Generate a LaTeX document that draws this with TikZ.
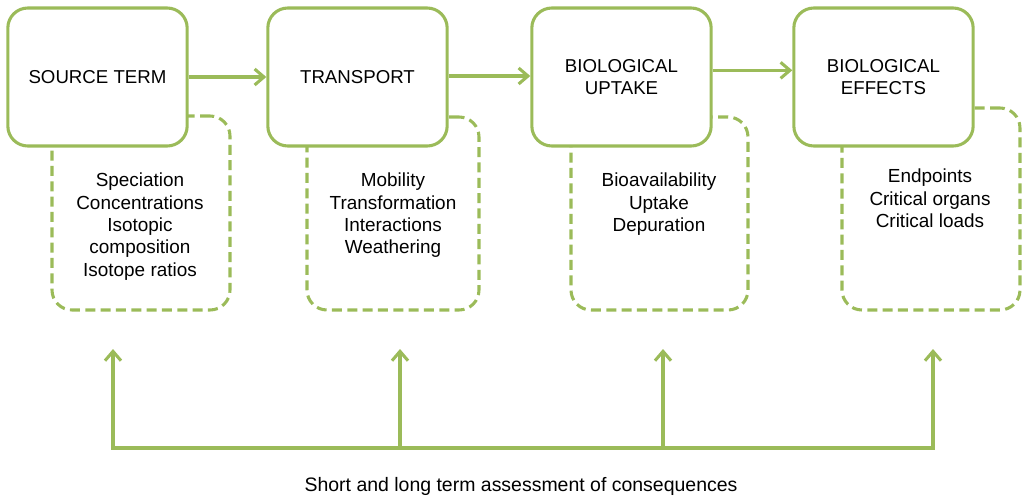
\documentclass[tikz,border=0pt]{standalone}
\usepackage{fontspec}
\setmainfont{Liberation Sans}
\usetikzlibrary{arrows.meta}
\definecolor{olivegreen}{HTML}{9BBB59}
\tikzset{
  mainbox/.style={draw=olivegreen, line width=2.3pt, fill=white, rounded corners=15pt,
    minimum width=134.5pt, minimum height=103.5pt, align=center, inner sep=0pt,
    font=\fontsize{14}{16.5}\selectfont},
  dashbox/.style={draw=olivegreen, line width=2.3pt, dash pattern=on 7.5pt off 4pt,
    rounded corners=15pt, inner sep=0pt},
  infotext/.style={anchor=north, align=center, inner sep=0pt,
    font=\fontsize{14.2}{16.7}\selectfont},
  conn/.style={draw=olivegreen, line width=2.3pt,
    arrows={-Straight Barb[length=7pt,width=12pt,line width=2.3pt]}},
  plainline/.style={draw=olivegreen, line width=2.3pt}
}
\begin{document}
\begin{tikzpicture}[x=0.75pt,y=-0.75pt]
\useasboundingbox (0,0) rectangle (1022,496);
% dashed boxes
\node[dashbox, minimum width=133.5pt, minimum height=145.5pt] (d1) at (141,213) {};
\node[dashbox, minimum width=129pt, minimum height=144.75pt] (d2) at (393,213.5) {};
\node[dashbox, minimum width=132.75pt, minimum height=144.75pt] (d3) at (659.5,213.5) {};
\node[dashbox, minimum width=133.5pt, minimum height=151.5pt] (d4) at (931,209) {};
% main boxes
\node[mainbox] (b1) at (97.5,77) {SOURCE TERM};
\node[mainbox] (b2) at (357.5,77) {TRANSPORT};
\node[mainbox] (b3) at (621.5,77) {BIOLOGICAL\\UPTAKE};
\node[mainbox] (b4) at (883.5,77) {BIOLOGICAL\\EFFECTS};
% texts
\node[infotext] (t1) at (140,173) {Speciation\\Concentrations\\Isotopic\\composition\\Isotope ratios};
\node[infotext] (t2) at (393,173) {Mobility\\Transformation\\Interactions\\Weathering};
\node[infotext] (t3) at (659,173) {Bioavailability\\Uptake\\Depuration};
\node[infotext] (t4) at (930,169) {Endpoints\\Critical organs\\Critical loads};
% arrows between boxes
\draw[conn] (b1.east) -- (b2.west);
\draw[conn] ([yshift=0.75pt]b2.east) -- ([yshift=0.75pt]b3.west);
\draw[conn] ([yshift=5pt]b3.east) -- ([yshift=5pt]b4.west);
% bottom
\coordinate (a1) at (113,349);
\coordinate (a2) at (400,349);
\coordinate (a3) at (663,349);
\coordinate (a4) at (933,349);
\coordinate (l1) at (113,448);
\coordinate (l2) at (400,448);
\coordinate (l3) at (663,448);
\coordinate (l4) at (933,448);
\draw[conn, arrows={Straight Barb[length=7pt,width=12pt,line width=2.3pt]-Straight Barb[length=7pt,width=12pt,line width=2.3pt]}] (a1) -- (l1) -- (l4) -- (a4);
\draw[conn] (l2) -- (a2);
\draw[conn] (l3) -- (a3);
\node[font=\fontsize{14.6}{17}\selectfont, inner sep=0pt] (cap) at (521,486) {Short and long term assessment of consequences};
\end{tikzpicture}
\end{document}
